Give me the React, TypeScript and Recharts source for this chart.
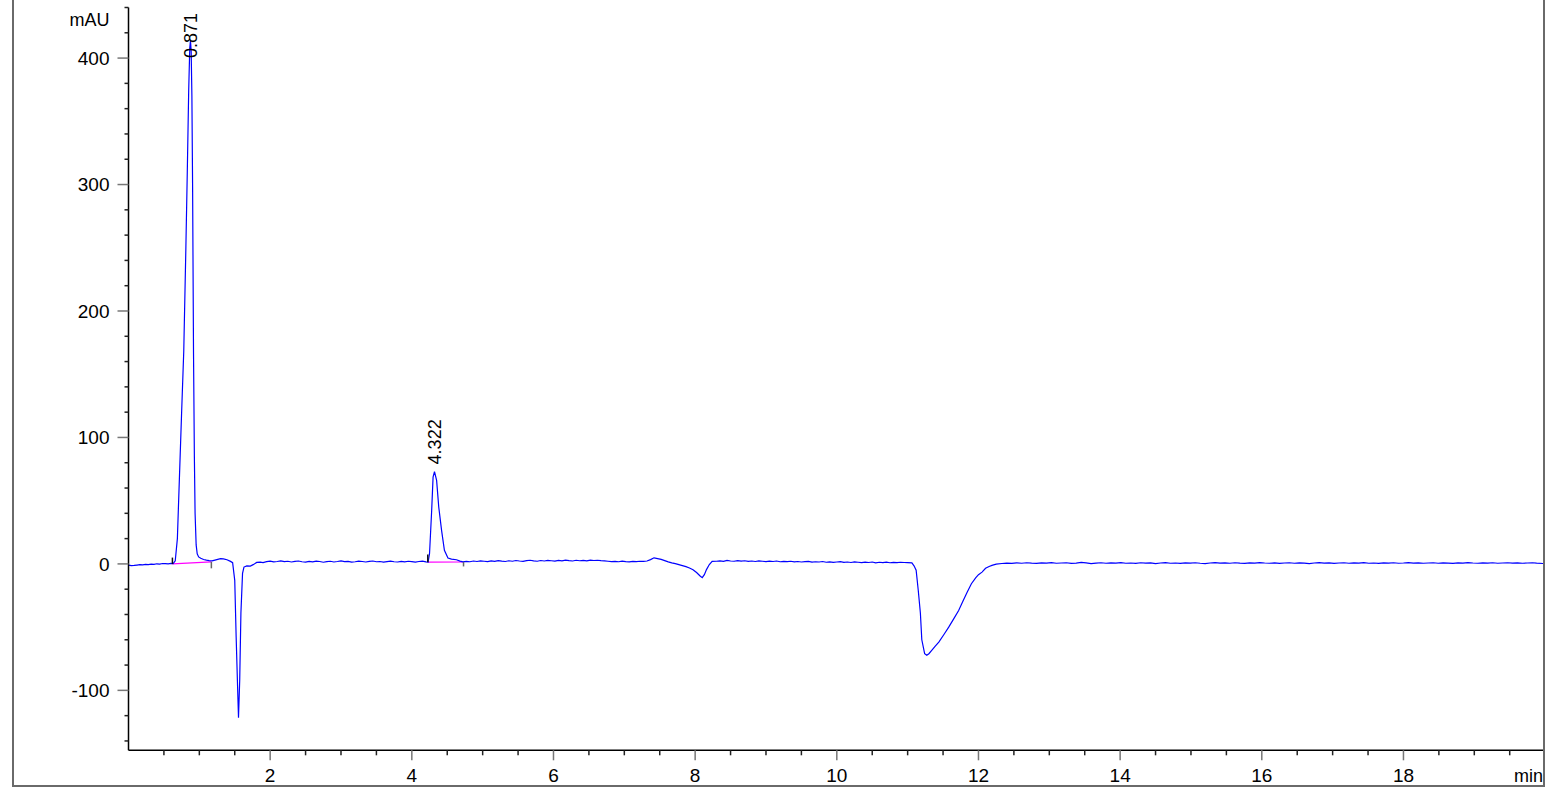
import React from 'react';
import { ComposedChart, Line, XAxis, YAxis, ReferenceLine, ReferenceDot } from 'recharts';

// time (min), absorbance (mAU)
const trace: [number, number][] = [
  [0.00, -1.0], [0.04, -1.3], [0.08, -1.2], [0.12, -0.9], [0.16, -0.6], [0.20, -0.8], [0.24, -0.4], [0.28, -0.5],
  [0.32, -0.2], [0.36, -0.3], [0.40, 0.1], [0.44, -0.1], [0.48, 0.3], [0.52, 0.2], [0.56, 0.0], [0.60, 0.4],
  [0.63, 0.3], [0.66, 2.5], [0.69, 20], [0.72, 70], [0.75, 120], [0.78, 168], [0.81, 250], [0.83, 310],
  [0.85, 375], [0.865, 408], [0.875, 414], [0.885, 405], [0.895, 370], [0.905, 298], [0.918, 166], [0.93, 85],
  [0.94, 40], [0.955, 15], [0.97, 8], [0.99, 5.5], [1.02, 4.5], [1.06, 3.5], [1.10, 3.0], [1.14, 2.6],
  [1.18, 2.4], [1.22, 3.0], [1.26, 3.6], [1.30, 4.1], [1.34, 4.0], [1.39, 3.3], [1.44, 2.0], [1.47, 1.0],
  [1.50, -13], [1.52, -58], [1.54, -97], [1.553, -121.6], [1.57, -92], [1.587, -39], [1.61, -7.5], [1.63, -2.5],
  [1.67, -1.6], [1.72, -1.7], [1.76, -0.6], [1.81, 1.2], [1.86, 1.4], [1.90, 1.0], [1.95, 1.8], [2.00, 2.2],
  [2.05, 1.6], [2.10, 1.9], [2.15, 2.4], [2.20, 1.8], [2.25, 2.1], [2.30, 1.5], [2.35, 2.0], [2.40, 2.3],
  [2.45, 1.7], [2.50, 1.4], [2.55, 2.0], [2.60, 1.6], [2.65, 2.2], [2.70, 1.9], [2.75, 1.3], [2.80, 1.8],
  [2.85, 2.1], [2.90, 1.5], [2.95, 1.9], [3.00, 2.4], [3.05, 1.8], [3.10, 2.0], [3.15, 1.4], [3.20, 1.7],
  [3.25, 2.2], [3.30, 1.9], [3.35, 1.5], [3.40, 2.0], [3.45, 2.3], [3.50, 1.7], [3.55, 1.9], [3.60, 1.4],
  [3.65, 1.8], [3.70, 2.2], [3.75, 1.7], [3.80, 1.5], [3.85, 2.0], [3.90, 1.6], [3.95, 2.1], [4.00, 1.8],
  [4.05, 1.4], [4.10, 1.9], [4.15, 2.2], [4.20, 1.6], [4.23, 1.4], [4.25, 8.3], [4.28, 42], [4.30, 68.6],
  [4.32, 73], [4.35, 66], [4.38, 45], [4.42, 26.5], [4.46, 10.7], [4.51, 4.6], [4.56, 3.8], [4.63, 3.3],
  [4.68, 2.2], [4.72, 1.6], [4.77, 2.0], [4.82, 1.7], [4.87, 2.3], [4.92, 1.9], [4.97, 2.4], [5.02, 2.1],
  [5.07, 1.8], [5.12, 2.4], [5.17, 2.0], [5.22, 2.6], [5.27, 2.2], [5.32, 1.9], [5.37, 2.5], [5.42, 2.1],
  [5.47, 2.7], [5.52, 2.3], [5.57, 2.0], [5.62, 2.6], [5.67, 2.9], [5.72, 2.4], [5.77, 2.1], [5.82, 2.7],
  [5.87, 2.3], [5.92, 2.8], [5.97, 2.5], [6.02, 2.2], [6.07, 2.8], [6.12, 2.4], [6.17, 3.0], [6.22, 2.6],
  [6.27, 2.3], [6.32, 2.9], [6.37, 2.5], [6.42, 2.8], [6.47, 2.4], [6.52, 3.0], [6.57, 2.7], [6.62, 2.9],
  [6.67, 2.6], [6.72, 2.4], [6.77, 2.1], [6.82, 1.8], [6.87, 2.0], [6.92, 1.7], [6.97, 2.2], [7.02, 1.8],
  [7.07, 1.6], [7.12, 2.0], [7.17, 1.8], [7.22, 2.1], [7.27, 2.0], [7.32, 2.3], [7.37, 3.4], [7.42, 4.8],
  [7.47, 4.2], [7.52, 3.6], [7.57, 2.6], [7.62, 1.6], [7.67, 0.8], [7.72, 0.2], [7.77, -0.6], [7.82, -1.4],
  [7.87, -2.2], [7.92, -3.2], [7.97, -4.6], [8.02, -6.8], [8.07, -9.6], [8.10, -10.9], [8.13, -8.5], [8.16, -4.5],
  [8.20, -0.5], [8.24, 2.0], [8.30, 2.1], [8.35, 2.4], [8.40, 2.0], [8.45, 2.8], [8.50, 2.3], [8.55, 2.1],
  [8.60, 2.6], [8.65, 2.2], [8.70, 2.5], [8.75, 2.0], [8.80, 2.3], [8.85, 1.9], [8.90, 2.4], [8.95, 2.1],
  [9.00, 1.8], [9.05, 2.2], [9.10, 1.9], [9.15, 2.3], [9.20, 1.7], [9.25, 2.0], [9.30, 1.8], [9.35, 2.1],
  [9.40, 1.6], [9.45, 1.9], [9.50, 1.5], [9.55, 1.8], [9.60, 2.0], [9.65, 1.4], [9.70, 1.7], [9.75, 1.5],
  [9.80, 1.9], [9.85, 1.3], [9.90, 1.6], [9.95, 1.2], [10.00, 1.5], [10.05, 1.8], [10.10, 1.2], [10.15, 1.5],
  [10.20, 1.1], [10.25, 1.6], [10.30, 1.3], [10.35, 1.0], [10.40, 1.4], [10.45, 1.1], [10.50, 1.5], [10.55, 0.9],
  [10.60, 1.3], [10.65, 1.0], [10.70, 1.4], [10.75, 0.9], [10.80, 1.2], [10.85, 1.0], [10.90, 1.3], [10.95, 1.1],
  [11.00, 1.0], [11.06, 0.8], [11.09, -1.5], [11.12, -5], [11.15, -21], [11.18, -39], [11.20, -60], [11.24, -71],
  [11.27, -72.3], [11.30, -71], [11.34, -68.4], [11.39, -65], [11.44, -61.8], [11.51, -56], [11.58, -50], [11.65, -43.5],
  [11.72, -36.8], [11.78, -29.5], [11.84, -22.5], [11.90, -15.7], [11.96, -11], [12.00, -8.5], [12.05, -6.5], [12.10, -3.5],
  [12.15, -2.0], [12.19, -1.2], [12.25, -0.2], [12.33, 0.3], [12.40, 0.6], [12.47, 0.4], [12.54, 0.8], [12.61, 0.5],
  [12.68, 0.9], [12.75, 0.6], [12.82, 0.4], [12.89, 0.8], [12.96, 0.6], [13.03, 1.0], [13.10, 0.5], [13.17, 0.7],
  [13.24, 0.9], [13.31, 0.4], [13.38, 0.6], [13.45, 1.2], [13.52, 0.8], [13.59, 0.3], [13.66, 0.6], [13.73, 0.9],
  [13.80, 0.5], [13.87, 0.8], [13.94, 0.6], [14.01, 1.0], [14.08, 0.5], [14.15, 0.7], [14.22, 0.4], [14.29, 0.9],
  [14.36, 0.6], [14.43, 0.8], [14.50, 0.3], [14.57, 0.7], [14.64, 1.0], [14.71, 0.5], [14.78, 0.7], [14.85, 0.4],
  [14.92, 0.8], [14.99, 0.6], [15.06, 0.9], [15.13, 0.5], [15.20, 0.3], [15.27, 0.7], [15.34, 1.0], [15.41, 0.6],
  [15.48, 0.8], [15.55, 0.5], [15.62, 0.9], [15.69, 0.6], [15.76, 0.4], [15.83, 0.8], [15.90, 0.6], [15.97, 1.0],
  [16.04, 0.7], [16.11, 0.5], [16.18, 0.8], [16.25, 0.4], [16.32, 0.7], [16.39, 0.9], [16.46, 0.5], [16.53, 0.8],
  [16.60, 0.6], [16.67, 0.3], [16.74, 0.7], [16.81, 1.0], [16.88, 0.6], [16.95, 0.8], [17.02, 0.4], [17.09, 0.7],
  [17.16, 0.9], [17.23, 0.5], [17.30, 0.8], [17.37, 0.6], [17.44, 1.0], [17.51, 0.5], [17.58, 0.7], [17.65, 0.4],
  [17.72, 0.8], [17.79, 0.6], [17.86, 0.9], [17.93, 0.5], [18.00, 0.7], [18.07, 1.0], [18.14, 0.6], [18.21, 0.8],
  [18.28, 0.5], [18.35, 0.7], [18.42, 0.9], [18.49, 0.5], [18.56, 0.8], [18.63, 0.6], [18.70, 0.4], [18.77, 0.8],
  [18.84, 0.6], [18.91, 1.0], [18.98, 0.7], [19.05, 0.5], [19.12, 0.8], [19.19, 0.6], [19.26, 0.9], [19.33, 0.5],
  [19.40, 0.7], [19.47, 0.9], [19.54, 0.6], [19.61, 0.8], [19.68, 0.5], [19.75, 0.7], [19.82, 0.9], [19.88, 0.6],
  [19.97, 0.3],
];

// integration baselines (start/end of each integrated peak)
const baseline1: [number, number][] = [[0.62, 0.0], [1.17, 1.6]];
const baseline2: [number, number][] = [[4.23, 1.4], [4.72, 1.5]];

// integration event markers: time, from value, to value, colour
const eventMarks = [
  { t: 0.62, from: 0.0, to: 5.0, color: '#111' },
  { t: 1.17, from: 1.6, to: -3.5, color: '#666' },
  { t: 4.225, from: 1.4, to: 7.5, color: '#111' },
  { t: 4.73, from: 1.5, to: -2.0, color: '#666' },
];

// retention time labels
const peakLabels = [
  { t: 0.871, v: 400, text: '0.871' },
  { t: 4.322, v: 78.7, text: '4.322' },
];

const yTicks = [-140, -120, -100, -80, -60, -40, -20, 0, 20, 40, 60, 80, 100, 120, 140, 160, 180, 200, 220, 240, 260, 280, 300, 320, 340, 360, 380, 400, 420, 440];
const yMajor = [-100, 0, 100, 200, 300, 400];
const xTicks = [0.5, 1, 1.5, 2, 2.5, 3, 3.5, 4, 4.5, 5, 5.5, 6, 6.5, 7, 7.5, 8, 8.5, 9, 9.5, 10, 10.5, 11, 11.5, 12, 12.5, 13, 13.5, 14, 14.5, 15, 15.5, 16, 16.5, 17, 17.5, 18, 18.5, 19, 19.5];
const xMajor = [2, 4, 6, 8, 10, 12, 14, 16, 18];

const FONT = '"Liberation Sans", Arial, sans-serif';

const data = trace.map(([t, v]) => ({ t, v }));
const b1 = baseline1.map(([t, v]) => ({ t, v }));
const b2 = baseline2.map(([t, v]) => ({ t, v }));

const YTick = (props: any) => {
  const { x, y, payload } = props;
  const val = payload.value;
  const major = yMajor.includes(val);
  return (
    <g>
      <line x1={x} x2={x - (major ? 11 : 4)} y1={y} y2={y} stroke={major ? '#777' : '#222'} strokeWidth={1.5} />
      {major && (
        <text x={x - 19} y={y} dy="0.35em" textAnchor="end" fontFamily={FONT} fontSize={19} fill="#000">
          {val}
        </text>
      )}
    </g>
  );
};

const XTick = (props: any) => {
  const { x, y, payload } = props;
  const val = payload.value;
  const major = xMajor.includes(val);
  return (
    <g>
      <line x1={x} x2={x} y1={y} y2={y + (major ? 10 : 5)} stroke={major ? '#777' : '#222'} strokeWidth={1.5} />
      {major && (
        <text x={x} y={y + 32} textAnchor="middle" fontFamily={FONT} fontSize={19} fill="#000">
          {val}
        </text>
      )}
    </g>
  );
};

const MauLabel = (props: any) => {
  const vb = props.viewBox || {};
  return (
    <text x={vb.x + vb.width - 19} y={vb.y + 18.5} textAnchor="end" fontFamily={FONT} fontSize={18} fill="#000">
      mAU
    </text>
  );
};

const MinLabel = (props: any) => {
  const vb = props.viewBox || {};
  return (
    <text x={vb.x + vb.width} y={vb.y + 32} textAnchor="end" fontFamily={FONT} fontSize={18} fill="#000">
      min
    </text>
  );
};

const makePeakLabel = (text: string) => (props: any) => {
  const vb = props.viewBox || {};
  const cx = vb.x + (vb.width || 0) / 2;
  const cy = vb.y + (vb.height || 0) / 2;
  return (
    <text
      x={cx}
      y={cy}
      dy="0.38em"
      transform={`rotate(-90, ${cx}, ${cy})`}
      textAnchor="start"
      fontFamily={FONT}
      fontSize={18}
      fill="#000"
    >
      {text}
    </text>
  );
};

export default function App() {
  return (
    <div style={{ position: 'absolute', left: 0, top: 0, width: 1547, height: 795, background: '#fff' }}>
      <div
        style={{
          position: 'absolute',
          left: 12,
          top: 0,
          width: 1533,
          height: 787,
          boxSizing: 'border-box',
          borderLeft: '2px solid #6a6a6a',
          borderRight: '2px solid #6a6a6a',
          borderBottom: '2px solid #6a6a6a',
        }}
      />
      <div style={{ position: 'absolute', left: 0, top: 0 }}>
        <ComposedChart width={1547} height={795} data={data} margin={{ top: 7.5, right: 4, bottom: 0, left: 0 }}>
          <XAxis
            dataKey="t"
            type="number"
            domain={[0, 19.97]}
            ticks={xTicks}
            interval={0}
            allowDataOverflow
            height={44.7}
            tickSize={0}
            tickMargin={0}
            tickLine={false}
            tick={<XTick />}
            axisLine={{ stroke: '#000', strokeWidth: 1.5 }}
            label={<MinLabel />}
          />
          <YAxis
            type="number"
            domain={[-147.4, 440]}
            ticks={yTicks}
            interval={0}
            allowDataOverflow
            width={128.5}
            tickSize={0}
            tickMargin={0}
            tickLine={false}
            tick={<YTick />}
            axisLine={{ stroke: '#000', strokeWidth: 1.5 }}
            label={<MauLabel />}
          />
          <Line data={b1} dataKey="v" type="linear" stroke="#ff00ff" strokeWidth={1.2} dot={false} isAnimationActive={false} />
          <Line data={b2} dataKey="v" type="linear" stroke="#ff00ff" strokeWidth={1.2} dot={false} isAnimationActive={false} />
          <Line dataKey="v" type="linear" stroke="#0000ff" strokeWidth={1.2} dot={false} isAnimationActive={false} />
          {eventMarks.map((m, i) => (
            <ReferenceLine
              key={'m' + i}
              segment={[{ x: m.t, y: m.from }, { x: m.t, y: m.to }]}
              stroke={m.color}
              strokeWidth={1.5}
              ifOverflow="visible"
            />
          ))}
          {peakLabels.map((p, i) => (
            <ReferenceDot
              key={'p' + i}
              x={p.t}
              y={p.v}
              r={0}
              fill="none"
              stroke="none"
              ifOverflow="visible"
              label={makePeakLabel(p.text)}
            />
          ))}
        </ComposedChart>
      </div>
    </div>
  );
}
